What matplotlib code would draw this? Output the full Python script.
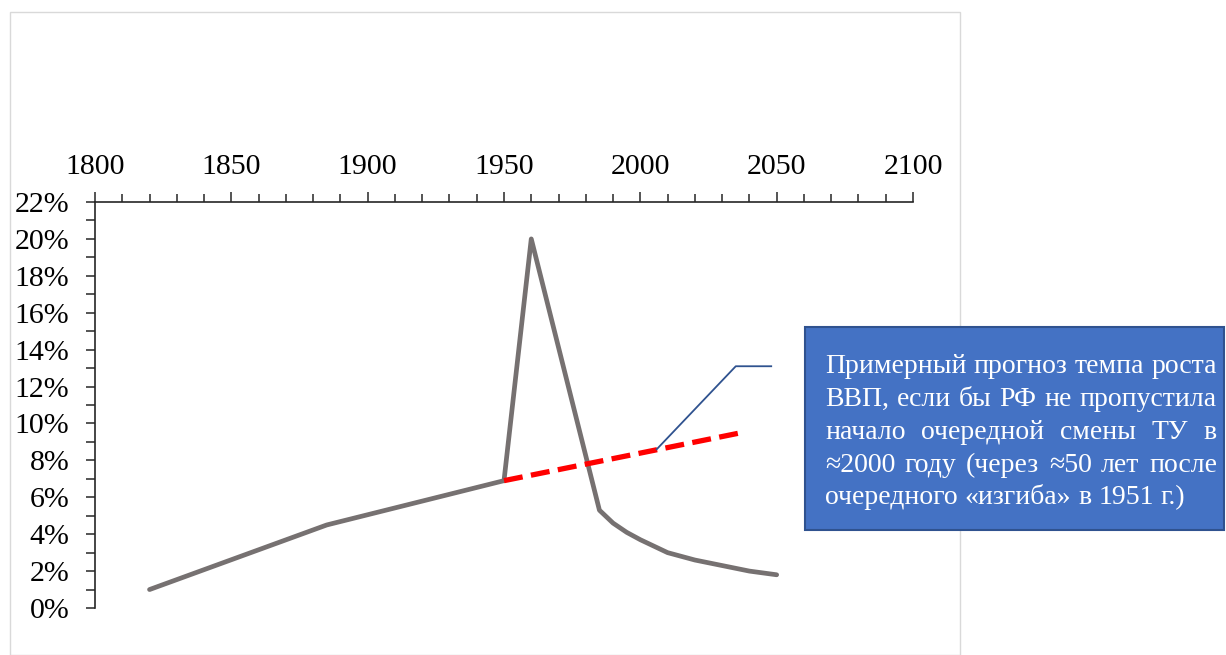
import matplotlib
matplotlib.use("Agg")
import matplotlib.pyplot as plt
from matplotlib.patches import Rectangle
from matplotlib.ticker import MultipleLocator, FuncFormatter
from matplotlib.lines import Line2D

plt.rcParams['font.family'] = ['Liberation Serif', 'DejaVu Serif']

# GDP growth rate series (share)
years = [1820, 1885, 1950, 1960, 1985, 1990, 1995, 2000, 2010, 2020, 2030, 2040, 2050]
growth = [0.010, 0.045, 0.069, 0.200, 0.053, 0.046, 0.041, 0.037, 0.030, 0.026, 0.023, 0.020, 0.018]

# Forecast trend if the technological shift had not been missed
trend_years = [1950, 2037]
trend_growth = [0.069, 0.095]

x_ticks = [1800, 1850, 1900, 1950, 2000, 2050, 2100]

callout_lines = [
    "Примерный прогноз темпа роста",
    "ВВП, если бы РФ не пропустила",
    "начало очередной смены ТУ в",
    "≈2000 году (через ≈50 лет после",
    "очередного «изгиба» в 1951 г.)",
]

W, H = 1226, 655
fig = plt.figure(figsize=(W / 100, H / 100), dpi=100)

# outer chart frame
fig.patches.append(Rectangle((10 / W, 0), 950 / W, 1 - 12 / H, transform=fig.transFigure,
                             fill=False, edgecolor='#D9D9D9', linewidth=1.0))

ax = fig.add_axes([95 / W, 1 - 608 / H, (913 - 95) / W, (608 - 202) / H])
ax.set_xlim(1800, 2100)
ax.set_ylim(0, 0.22)
for s in ('bottom', 'right'):
    ax.spines[s].set_visible(False)
for s in ('left', 'top'):
    ax.spines[s].set_linewidth(1.2)
    ax.spines[s].set_color('#262626')

ax.xaxis.set_ticks_position('top')
ax.xaxis.set_label_position('top')
ax.set_xticks(x_ticks)
ax.xaxis.set_minor_locator(MultipleLocator(10))
ax.yaxis.set_major_locator(MultipleLocator(0.02))
ax.yaxis.set_minor_locator(MultipleLocator(0.01))
ax.yaxis.set_major_formatter(FuncFormatter(lambda v, p: f"{v * 100:.0f}%"))

ax.tick_params(axis='x', which='major', direction='out', length=7.5, width=1.1,
               color='#262626', labelsize=21.5, pad=8)
ax.tick_params(axis='x', which='minor', direction='out', length=5.5, width=1.1, color='#262626')
ax.tick_params(axis='y', which='major', direction='out', length=6.5, width=1.1,
               color='#262626', labelsize=21.5, pad=12)
ax.tick_params(axis='y', which='minor', direction='out', length=6.5, width=1.1, color='#262626')
ax.patch.set_visible(False)

ax.plot(years, growth, color='#767171', linewidth=3.4, solid_joinstyle='round',
        solid_capstyle='round', zorder=3)
ax.plot(trend_years, trend_growth, color='#FF0000', linewidth=3.8,
        dashes=(3.6, 1.6), zorder=4)

# callout leader line
ax.add_line(Line2D([2006, 2035, 2048], [0.086, 0.131, 0.131], color='#2F528F',
                   linewidth=1.3, zorder=5, clip_on=False))

# callout box
bx0, by0, bx1, by1 = 805, 327, 1224, 530
fig.patches.append(Rectangle((bx0 / W, 1 - by1 / H), (bx1 - bx0) / W, (by1 - by0) / H,
                             transform=fig.transFigure, facecolor='#4472C4',
                             edgecolor='#2F528F', linewidth=1.5, zorder=5))

fig.canvas.draw()
renderer = fig.canvas.get_renderer()
left, right = 825, 1217
baselines = [373, 406, 439, 472, 504]
fs = 20
for i, (line, base) in enumerate(zip(callout_lines, baselines)):
    words = line.split(' ')
    texts = []
    widths = []
    for w in words:
        t = fig.text(0, 1 - base / H, w, color='white', fontsize=fs, va='baseline',
                     ha='left', zorder=6)
        bb = t.get_window_extent(renderer)
        texts.append(t)
        widths.append(bb.width)
    sp = fig.text(0, 0, 'a a', fontsize=fs)
    sp2 = fig.text(0, 0, 'aa', fontsize=fs)
    natural_gap = sp.get_window_extent(renderer).width - sp2.get_window_extent(renderer).width
    sp.remove()
    sp2.remove()
    if i < len(callout_lines) - 1 and len(words) > 1:
        gap = (right - left - sum(widths)) / (len(words) - 1)
    else:
        gap = natural_gap
    x = left
    for t, w in zip(texts, widths):
        t.set_x(x / W)
        x += w + gap

fig.savefig('out.png', dpi=100)
